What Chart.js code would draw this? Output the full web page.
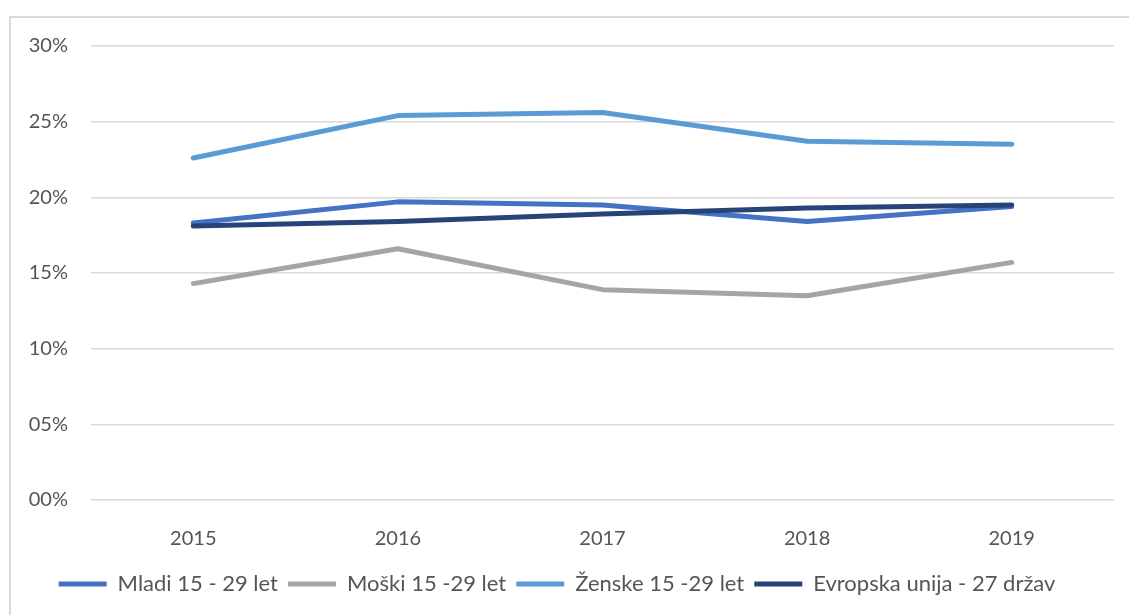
<!DOCTYPE html>
<html>
<head>
<meta charset="utf-8">
<script src="https://cdn.jsdelivr.net/npm/chart.js@4"></script>
<style>
  body { margin: 0; background: #fff; overflow: hidden; }
  #frame { position: absolute; left: 9px; top: 16px; width: 1200px; height: 700px; border: 2px solid #d9d9d9; box-sizing: border-box; }
  #wrap { position: absolute; left: 0; top: 0; width: 1129px; height: 615px; }
</style>
</head>
<body>
<div id="frame"></div>
<div id="wrap"><canvas id="chart01"></canvas></div>
<script>
// leta in vrednosti (odstotki)
var years = ['2015', '2016', '2017', '2018', '2019'];
var mladi = [18.3, 19.7, 19.5, 18.4, 19.4];
var moski = [14.3, 16.6, 13.9, 13.5, 15.7];
var zenske = [22.6, 25.4, 25.6, 23.7, 23.5];
var eu27 = [18.1, 18.4, 18.9, 19.3, 19.5];
var yTicks = ['00%', '05%', '10%', '15%', '20%', '25%', '30%'];

function serie(label, values, color, order) {
  return {
    label: label,
    data: values,
    borderColor: color,
    backgroundColor: color,
    borderWidth: 5,
    borderCapStyle: 'round',
    borderJoinStyle: 'round',
    pointRadius: 0,
    tension: 0,
    order: order
  };
}

var ctx = document.getElementById('chart01');
var myLineChart = new Chart(ctx, {
  type: 'line',
  data: {
    labels: years,
    datasets: [
      serie('Mladi 15 - 29 let', mladi, '#4472c4', 3),
      serie('Moški 15 -29 let', moski, '#a5a5a5', 2),
      serie('Ženske 15 -29 let', zenske, '#5b9bd5', 1),
      serie('Evropska unija - 27 držav', eu27, '#264478', 0)
    ]
  },
  options: {
    responsive: true,
    maintainAspectRatio: false,
    animation: false,
    layout: {
      padding: { top: 46, right: 15, left: 0, bottom: 10 }
    },
    plugins: {
      tooltip: { enabled: false },
      legend: {
        position: 'bottom',
        labels: {
          usePointStyle: true,
          pointStyle: 'line',
          pointStyleWidth: 48,
          boxHeight: 22,
          padding: 10,
          color: '#555555',
          font: { family: 'Lato', size: 22 },
          sort: function(a, b) { return a.datasetIndex - b.datasetIndex; }
        }
      }
    },
    scales: {
      x: {
        offset: true,
        grid: { display: false },
        border: { display: false },
        ticks: {
          color: '#555555',
          padding: 19,
          font: { family: 'Lato', size: 20 }
        },
        afterFit: function(scale) { scale.height = 63; }
      },
      y: {
        min: 0,
        max: 30,
        border: { display: false },
        grid: { color: '#d9d9d9', lineWidth: 1.5, drawTicks: false },
        ticks: {
          stepSize: 5,
          padding: 23,
          color: '#555555',
          font: { family: 'Lato', size: 20 },
          callback: function(value, index) { return yTicks[index]; }
        },
        afterFit: function(scale) { scale.width = 91; }
      }
    }
  }
});
</script>
</body>
</html>
